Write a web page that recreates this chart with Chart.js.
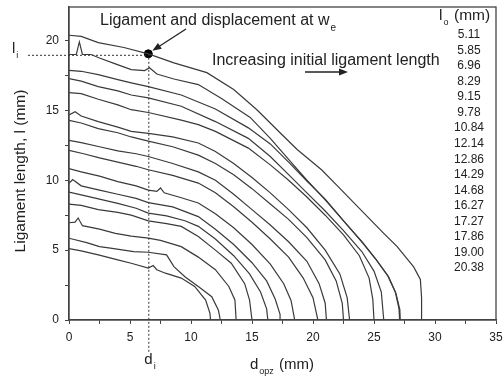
<!DOCTYPE html>
<html>
<head>
<meta charset="utf-8">
<script src="https://cdn.jsdelivr.net/npm/chart.js@4"></script>
<style>
  html, body { margin: 0; padding: 0; background: #fff; }
  #wrap { width: 504px; height: 376px; }
</style>
</head>
<body>
<div id="wrap"><canvas id="chart" width="504" height="376"></canvas></div>
<script>
// initial ligament lengths l_o (mm), legend order
const initialLengths = ['5.11', '5.85', '6.96', '8.29', '9.15', '9.78', '10.84', '12.14',
  '12.86', '14.29', '14.68', '16.27', '17.27', '17.86', '19.00', '20.38'];

// each curve: [d_opz, l] pairs
const c511 = [[0,5.11],[1,4.95],[2.4,4.66],[4,4.3],[5.1,4.06],[6.5,3.72],[6.9,3.9],[7.2,3.6],[7.9,3.35],[9.2,3.0],[10.3,2.4],[11.2,1.43],[11.55,0.5],[11.6,0]];
const c585 = [[0,5.85],[1.45,5.54],[2.5,5.25],[3.4,5.14],[5.3,4.9],[6.5,4.85],[8,4.66],[8.6,3.82],[9.5,3.1],[10.6,2.4],[11.7,1.67],[12.25,0.7],[12.4,0]];
const c696 = [[0,6.96],[0.5,7.0],[0.75,7.3],[1.1,6.75],[2.5,6.5],[3.8,6.2],[5.1,6.0],[6.5,5.86],[7.5,5.7],[9.2,5.25],[10.6,4.5],[12,3.6],[13.1,2.4],[13.6,1.43],[13.7,0]];
const c829 = [[0,8.29],[1,8.2],[2.4,7.9],[4,7.7],[5.1,7.5],[6.5,7.1],[8,6.9],[9.2,6.7],[10.6,5.97],[12,5.0],[13.3,4.06],[14.4,2.6],[14.8,1.43],[15.0,0]];
const c915 = [[0,9.15],[1,8.95],[2.5,8.65],[4,8.35],[5.5,8.0],[6.5,7.65],[8,7.45],[9.5,7.1],[10.6,6.7],[12,5.8],[13.5,4.6],[14.8,3.3],[15.7,2.0],[16.2,0.8],[16.3,0]];
const c978 = [[0,9.78],[0.3,10.05],[1,9.6],[2.5,9.3],[4,9.0],[5.5,8.7],[6.5,8.4],[8.5,8.1],[10.6,7.4],[12,6.5],[13.5,5.4],[15,4.1],[16.2,2.8],[16.9,1.5],[17.3,0.4],[17.3,0]];
const c1084 = [[0,10.84],[1,10.6],[2.5,10.3],[4,9.9],[5.5,9.6],[6.5,9.3],[7.2,9.2],[7.5,9.45],[7.8,9.1],[9,8.8],[10.6,8.37],[12,7.6],[13.5,6.6],[15,5.4],[16.5,4.0],[17.6,2.6],[18.2,1.4],[18.5,0]];
const c1214 = [[0,12.14],[1.2,11.9],[2.5,11.6],[4,11.3],[5.5,11.0],[6.5,10.75],[8.5,10.35],[10.6,9.8],[12,9.1],[13.5,8.1],[15,7.0],[16.5,5.8],[18,4.5],[19.2,3.0],[20,1.6],[20.4,0]];
const c1286 = [[0,12.86],[1,12.7],[2.5,12.4],[4,12.1],[5.5,11.9],[6.5,11.7],[8.5,11.2],[10.6,10.6],[12,10.0],[13.5,9.0],[15,7.9],[16.5,6.8],[18,5.6],[19.5,4.2],[20.5,2.6],[21,1.2],[21.1,0]];
const c1429 = [[0,14.29],[1,14.1],[2.4,13.7],[4,13.4],[5.1,13.1],[6.5,12.8],[8.5,12.4],[10.6,11.8],[12,11.2],[13.5,10.4],[15,9.4],[16.5,8.3],[18,7.2],[19.5,5.9],[21,4.3],[21.9,2.8],[22.4,1.2],[22.5,0]];
const c1468 = [[0,14.68],[0.5,14.9],[1,14.6],[2.4,14.2],[4,13.8],[5.1,13.5],[6.5,13.35],[8.5,13.1],[10.6,12.67],[12,12.06],[13.5,11.2],[15,10.2],[16.5,9.1],[18,7.9],[19.5,6.6],[21,5.0],[22.2,3.3],[22.8,1.6],[23,0]];
const c1627 = [[0,16.27],[1,16.2],[2.4,15.8],[4,15.4],[5.1,15.05],[6.5,14.85],[9.2,14.3],[10.6,13.98],[12,13.5],[14.7,12.3],[16.5,11.1],[18,10.0],[19.5,8.8],[21,7.5],[22.5,6.1],[23.8,4.6],[24.6,3.0],[24.9,1.5],[25.0,0]];
const c1727 = [[0,17.27],[1,17.1],[2.4,16.7],[4,16.4],[5.1,16.1],[6.5,15.9],[9.2,15.3],[12,14.2],[14.7,13.0],[16.5,11.7],[18,10.4],[19.5,9.1],[21,7.8],[22.5,6.4],[24,4.9],[25,3.5],[25.6,2.0],[25.8,0]];
const c1786 = [[0,17.86],[1,17.8],[2.4,17.56],[4,17.2],[5.1,16.97],[6.5,16.7],[9.2,16.1],[12,15.1],[14.7,13.75],[16.5,12.6],[18,11.3],[19.5,9.95],[21,8.65],[22.6,7.0],[24.1,5.5],[25.1,4.4],[26.1,3.2],[26.75,2.0],[27.05,0.8],[27.1,0]];
const c1900 = [[0,19.0],[0.6,19.0],[0.85,19.9],[1.1,19.0],[1.8,19.0],[2.5,18.75],[3.8,18.33],[5.1,17.92],[6.2,17.85],[6.6,18.05],[7.2,17.6],[8.6,17.25],[10.6,16.85],[12.5,15.85],[14.85,14.5],[16.5,13.0],[18,11.5],[19.5,10.0],[21,8.6],[22.5,7.1],[24,5.6],[25.2,4.3],[26.2,3.1],[26.8,1.9],[27.1,0.8],[27.15,0]];
const c2038 = [[0,20.38],[1,20.3],[2.4,19.85],[4.5,19.5],[6.5,19.05],[8.6,18.4],[11.3,17.7],[13.5,16.5],[15.4,15.05],[17.3,13.4],[18.7,12.2],[20.7,10.75],[22,9.6],[23.9,7.9],[25.8,6.2],[26.9,5.25],[28.25,3.8],[28.8,2.9],[28.9,1.6],[28.9,0]];

const curves = [c511, c585, c696, c829, c915, c978, c1084, c1214, c1286, c1429, c1468, c1627, c1727, c1786, c1900, c2038];

// marked point (ligament and displacement at w_e)
const markD = 6.5;
const markL = 19.05;

const xTicks = [0, 5, 10, 15, 20, 25, 30, 35];
const yTicks = [0, 5, 10, 15, 20];

const FONT = '"Liberation Sans", Arial, sans-serif';
const INK = '#222';

const datasets = curves.map((c, i) => ({
  label: initialLengths[i],
  data: c.map(p => ({x: p[0], y: p[1]})),
  borderColor: '#3a3a3a',
  borderWidth: 1.2,
  pointRadius: 0,
  showLine: true,
  fill: false,
  tension: 0
}));
datasets.push({
  label: 'we',
  data: [{x: markD, y: markL}],
  pointRadius: 4,
  pointBackgroundColor: '#000',
  pointBorderColor: '#000',
  showLine: false
});

function sub(ctx, main, s, x, y, size) {
  ctx.font = size + 'px ' + FONT;
  ctx.fillText(main, x, y);
  const w = ctx.measureText(main).width;
  ctx.font = Math.round(size * 0.6) + 'px ' + FONT;
  ctx.fillText(s, x + w + 1, y + size * 0.35);
  return x + w + 1 + ctx.measureText(s).width;
}

function arrow(ctx, x1, y1, x2, y2) {
  const a = Math.atan2(y2 - y1, x2 - x1);
  ctx.beginPath();
  ctx.moveTo(x1, y1);
  ctx.lineTo(x2 - 7 * Math.cos(a), y2 - 7 * Math.sin(a));
  ctx.stroke();
  ctx.beginPath();
  ctx.moveTo(x2, y2);
  ctx.lineTo(x2 - 9 * Math.cos(a) + 3.5 * Math.sin(a), y2 - 9 * Math.sin(a) - 3.5 * Math.cos(a));
  ctx.lineTo(x2 - 9 * Math.cos(a) - 3.5 * Math.sin(a), y2 - 9 * Math.sin(a) + 3.5 * Math.cos(a));
  ctx.closePath();
  ctx.fill();
}

const decor = {
  id: 'decor',
  afterDraw(chart) {
    const ctx = chart.ctx;
    const a = chart.chartArea;
    const xs = chart.scales.x, ys = chart.scales.y;
    ctx.save();
    // box
    ctx.strokeStyle = '#444';
    ctx.lineWidth = 1.3;
    ctx.strokeRect(a.left, a.top, a.right - a.left, a.bottom - a.top);

    // guide lines to the marked point
    const px = xs.getPixelForValue(markD), py = ys.getPixelForValue(markL);
    ctx.strokeStyle = '#333';
    ctx.lineWidth = 1;
    ctx.setLineDash([2, 2]);
    ctx.beginPath();
    ctx.moveTo(28, py + 1.5); ctx.lineTo(px, py + 1.5);
    ctx.moveTo(px + 0.5, py); ctx.lineTo(px + 0.5, 352);
    ctx.stroke();
    ctx.setLineDash([]);

    ctx.fillStyle = INK;
    ctx.strokeStyle = INK;
    ctx.textBaseline = 'alphabetic';
    ctx.textAlign = 'left';
    sub(ctx, 'l', 'i', 12, py - 1, 15);
    sub(ctx, 'd', 'i', px - 4, 364, 15);

    // axis titles
    sub(ctx, 'd', 'opz', 250, 369, 15);
    ctx.font = '15px ' + FONT;
    ctx.fillText('(mm)', 279, 369);
    ctx.save();
    ctx.translate(25, 171);
    ctx.rotate(-Math.PI / 2);
    ctx.textAlign = 'center';
    ctx.font = '15.5px ' + FONT;
    ctx.fillText('Ligament length, l (mm)', 0, 0);
    ctx.restore();

    // annotations
    ctx.textAlign = 'left';
    sub(ctx, 'Ligament and displacement at w', 'e', 100, 25, 16);
    ctx.lineWidth = 1.3;
    arrow(ctx, 186, 29, px + 4, py - 3);
    ctx.font = '16px ' + FONT;
    ctx.fillText('Increasing initial ligament length', 212, 65);
    arrow(ctx, 305, 72, 348, 72);

    // legend list
    sub(ctx, 'l', 'o', 439, 20, 15.5);
    ctx.font = '15.5px ' + FONT;
    ctx.fillText('(mm)', 454, 20);
    ctx.font = '12px ' + FONT;
    ctx.textAlign = 'center';
    ctx.textBaseline = 'middle';
    initialLengths.forEach((t, i) => ctx.fillText(t, 469, 35 + i * 15.53));
    ctx.restore();
  }
};

new Chart(document.getElementById('chart'), {
  type: 'scatter',
  data: { datasets },
  options: {
    responsive: false,
    animation: false,
    layout: { padding: { top: 7, right: 8, left: 0, bottom: 0 } },
    plugins: { legend: { display: false }, tooltip: { enabled: false } },
    scales: {
      x: {
        type: 'linear', min: 0, max: 35,
        afterFit(s) { s.height = 56; s.paddingLeft = 0; s.paddingRight = 0; },
        ticks: {
          stepSize: 2.5, includeBounds: false, autoSkip: false, maxRotation: 0,
          color: INK, font: { family: FONT, size: 12 }, padding: 6,
          callback: v => xTicks.includes(v) ? String(v) : ''
        },
        grid: { drawOnChartArea: false, tickLength: 4, color: '#444' },
        border: { color: '#444', width: 1.3 }
      },
      y: {
        type: 'linear', min: 0, max: 22.4,
        afterFit(s) { s.width = 69; s.paddingTop = 0; s.paddingBottom = 0; },
        ticks: {
          stepSize: 2.5, includeBounds: false, autoSkip: false,
          color: INK, font: { family: FONT, size: 12 }, padding: 6,
          callback: v => yTicks.includes(v) ? String(v) : ''
        },
        grid: { drawOnChartArea: false, tickLength: 4, color: '#444' },
        border: { color: '#444', width: 1.3 }
      }
    }
  },
  plugins: [decor]
});
</script>
</body>
</html>
